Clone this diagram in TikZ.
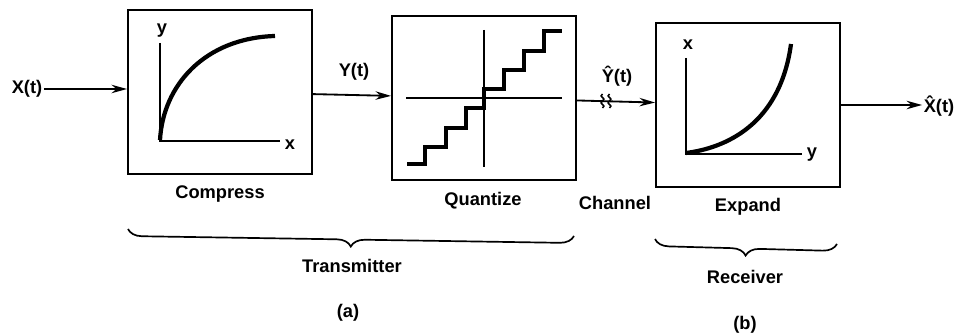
\documentclass[tikz,border=0pt]{standalone}
\usepackage{fontspec}
\setmainfont{Liberation Sans}
\usepackage{tikz}
\usetikzlibrary{arrows.meta,positioning,calc,decorations.pathreplacing}

\begin{document}
\begin{tikzpicture}[x=0.025cm, y=-0.025cm,
    blk/.style={draw, line width=1.4pt, minimum width=4.6cm, minimum height=4.1cm, inner sep=0pt},
    lbl/.style={font=\fontsize{13}{15}\selectfont\bfseries, inner sep=1pt},
    sig/.style={line width=1.3pt, -{Stealth[length=11pt, width=6pt]}},
    axis/.style={line width=1.2pt},
    crv/.style={line width=3pt},
    brc/.style={line width=1.2pt, decorate, decoration={brace, mirror, amplitude=10pt}}]
    \useasboundingbox (0,0) rectangle (965,333);

    % blocks
    \node[blk] (comp) at (220,92) {};
    \node[blk] (quant) at (484,98) {};
    \node[blk] (expd) at (748,105) {};
    \node[lbl] (compl) at (220,194) {Compress};
    \node[lbl] (quantl) at (483,201) {Quantize};
    \node[lbl] (chanl) at (615,203) {Channel};
    \node[lbl] (expdl) at (748,207) {Expand};

    % signals
    \node[lbl] (xin) at (27,89) {X(t)};
    \node[lbl] (yl) at (354,72) {Y(t)};
    \node[lbl] (yhat) at (617,76) {\^{Y}(t)};
    \node[lbl] (xout) at (939,106) {\^{X}(t)};
    \draw[sig] (xin.east) -- (xin.east -| comp.west);
    \draw[sig] (comp) -- (quant);
    \draw[sig] (quant) -- (expd);
    \draw[sig] (expd.east) -- (expd.east -| xout.west);
    \coordinate (brk) at (606,101);
    \foreach \dx in {-3.5,3.5}
        \draw[line width=1.1pt] ($(brk)+(\dx,-7)$) .. controls +(-5,3) and +(5,-3) .. ($(brk)+(\dx,0)$)
            .. controls +(-5,3) and +(5,-3) .. ($(brk)+(\dx,7)$);

    % compress curve
    \draw[axis] (160,43) -- (160,141) -- (280,141);
    \node[lbl] (cy) at (162,31) {y};
    \node[lbl] (cx) at (290,145) {x};
    \draw[crv] (160,140) .. controls (163,85) and (205,38) .. (275,36);

    % quantizer staircase
    \draw[axis] (484,30) -- (484,167);
    \draw[axis] (406,98) -- (562,98);
    \draw[crv] (407,164) -| (425,147) -| (446,128) -| (466,108) -| (484,89)
        -| (504,70) -| (524,51) -| (544,31) -- (562,31);

    % expand curve
    \draw[axis] (686,58) -- (686,154) -- (802,154);
    \node[lbl] (ex) at (688,45) {x};
    \node[lbl] (ey) at (812,155) {y};
    \draw[crv] (686,153) .. controls (725,148) and (780,125) .. (791,44);

    % braces
    \draw[brc] (128,229) -- (574,236);
    \draw[brc] (655,239) -- (837,244);
    \node[lbl] (tx) at (352,266) {Transmitter};
    \node[lbl] (rx) at (745,277) {Receiver};
    \node[lbl] (la) at (348,313) {(a)};
    \node[lbl] (lb) at (745,325) {(b)};
\end{tikzpicture}
\end{document}
